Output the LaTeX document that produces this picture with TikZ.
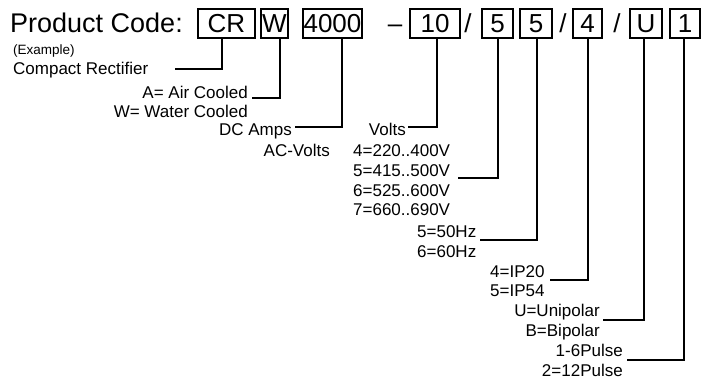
\documentclass[tikz,border=0pt]{standalone}
\usepackage{fontspec}
\setmainfont{Liberation Sans}
\usetikzlibrary{positioning}
\tikzset{
    codebox/.style={rectangle, draw, line width=1.2pt, minimum height=29pt, inner sep=0pt, font=\fontsize{26}{26}\selectfont},
    sep/.style={anchor=base, inner sep=0pt, font=\fontsize{26}{26}\selectfont},
    lbl/.style={inner sep=0pt, font=\fontsize{17}{17}\selectfont},
    lead/.style={line width=1.3pt},
}

\begin{document}
\begin{tikzpicture}[x=1pt, y=-1pt]
\useasboundingbox (0,0) rectangle (707,379);

% ── Code line ──
\node[anchor=base west, inner sep=0pt, font=\fontsize{27}{27}\selectfont] (title) at (10,32.5) {Product Code:};
\node[codebox, minimum width=57pt] (bCR) at (226.5,23.5) {CR};
\node[codebox, minimum width=27pt] (bW) at (274.5,23.5) {W};
\node[codebox, minimum width=59pt] (bAmps) at (332.5,23.5) {4000};
\node[sep] (dash) at (395,32.5) {--};
\node[codebox, minimum width=50pt] (bVdc) at (435,23.5) {10};
\node[sep] (sl1) at (468,32.5) {/};
\node[codebox, minimum width=31pt] (bVac) at (497.5,23.5) {5};
\node[codebox, minimum width=32pt] (bHz) at (536,23.5) {5};
\node[sep] (sl2) at (563,32.5) {/};
\node[codebox, minimum width=29pt] (bIP) at (587.5,23.5) {4};
\node[sep] (sl3) at (617,32.5) {/};
\node[codebox, minimum width=32pt] (bPol) at (646,23.5) {U};
\node[codebox, minimum width=30pt] (bPulse) at (685,23.5) {1};

% ── Left labels ──
\node[lbl, anchor=base west, font=\fontsize{13.5}{13.5}\selectfont] (ex) at (13,55) {(Example)};
\node[lbl, anchor=base west] (lRect) at (13,75) {Compact Rectifier};
\node[lbl, anchor=base east] (lAir) at (248,99) {A= Air Cooled};
\node[lbl, anchor=base east] (lWater) at (248,118) {W= Water Cooled};
\node[lbl, anchor=base east] (lAmps) at (292,135.5) {DC Amps};
\node[lbl, anchor=base east] (lAC) at (330,157) {AC-Volts};

% ── Voltage / frequency ──
\node[lbl, anchor=base east] (lVdc) at (406,135.5) {Volts};
\node[lbl, anchor=base west] (v4) at (353,157) {4=220..400V};
\node[lbl, anchor=base west] (v5) at (353,177) {5=415..500V};
\node[lbl, anchor=base west] (v6) at (353,196.5) {6=525..600V};
\node[lbl, anchor=base west] (v7) at (353,216) {7=660..690V};
\node[lbl, anchor=base west] (f5) at (417,238) {5=50Hz};
\node[lbl, anchor=base west] (f6) at (417,257.5) {6=60Hz};

% ── Enclosure / polarity / pulse ──
\node[lbl, anchor=base west] (ip20) at (490,277.5) {4=IP20};
\node[lbl, anchor=base west] (ip54) at (490,297) {5=IP54};
\node[lbl, anchor=base east] (pU) at (600,317) {U=Unipolar};
\node[lbl, anchor=base east] (pB) at (600,337) {B=Bipolar};
\node[lbl, anchor=base east] (pl6) at (623,356.5) {1-6Pulse};
\node[lbl, anchor=base east] (pl12) at (623,376) {2=12Pulse};

% ── Lead ends ──
\coordinate (eRect) at (175,69);
\coordinate (eAir) at (252,98);
\coordinate (eAmps) at (295,127);
\coordinate (eVdc) at (408,127);
\coordinate (eVac) at (458,178);
\coordinate (eHz) at (480,240);
\coordinate (eIP) at (550,280);
\coordinate (ePol) at (603,320);
\coordinate (ePulse) at (627,360);

\draw[lead] ([xshift=-4.5]bCR.south) |- (eRect);
\draw[lead] ([xshift=5.5]bW.south) |- (eAir);
\draw[lead] ([xshift=9.5]bAmps.south) |- (eAmps);
\draw[lead] ([xshift=2]bVdc.south) |- (eVdc);
\draw[lead] ([xshift=0.5]bVac.south) |- (eVac);
\draw[lead] ([xshift=1]bHz.south) |- (eHz);
\draw[lead] ([xshift=0.5]bIP.south) |- (eIP);
\draw[lead] ([xshift=-2]bPol.south) |- (ePol);
\draw[lead] ([xshift=-1]bPulse.south) |- (ePulse);

\end{tikzpicture}
\end{document}
